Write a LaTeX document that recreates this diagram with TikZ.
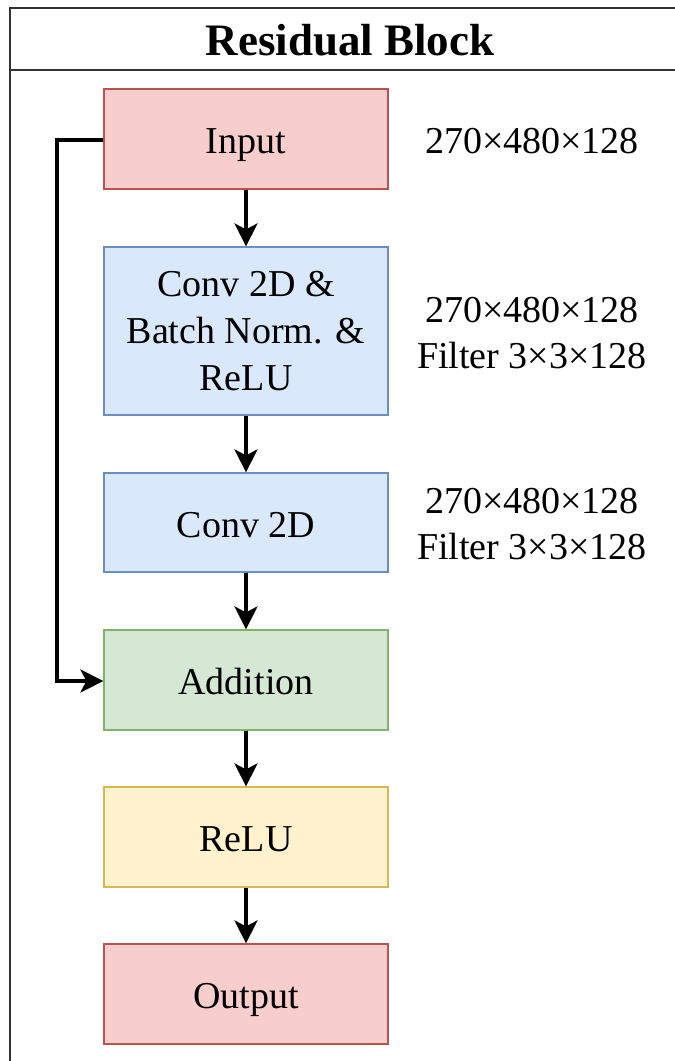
\documentclass[tikz,border=0pt]{standalone}
\usepackage{fontspec}
\setmainfont{Liberation Serif}
\usetikzlibrary{arrows.meta}
\definecolor{redfill}{HTML}{F8CECC}\definecolor{redline}{HTML}{B85450}
\definecolor{bluefill}{HTML}{DAE8FC}\definecolor{blueline}{HTML}{6C8EBF}
\definecolor{greenfill}{HTML}{D5E8D4}\definecolor{greenline}{HTML}{82B366}
\definecolor{yellowfill}{HTML}{FFF2CC}\definecolor{yellowline}{HTML}{D6B656}
\definecolor{framecol}{HTML}{333333}
\tikzset{
  layer/.style={draw, line width=1.2pt, minimum width=284pt, align=center,
    inner sep=0pt, font=\fontsize{38}{47}\selectfont},
  oneline/.style={text height=33pt, text depth=4pt},
  redbox/.style={layer, fill=redfill, draw=redline},
  bluebox/.style={layer, fill=bluefill, draw=blueline},
  greenbox/.style={layer, fill=greenfill, draw=greenline},
  yellowbox/.style={layer, fill=yellowfill, draw=yellowline},
  dims/.style={align=center, inner sep=0pt, font=\fontsize{38}{46}\selectfont},
  flow/.style={line width=3.5pt, -{Stealth[length=23pt,width=23pt,inset=6pt]}}
}
\begin{document}
\begin{tikzpicture}[x=1pt,y=-1pt]
\useasboundingbox (0,0) rectangle (675,1061);
\begin{scope}
\clip (0,0) rectangle (675,1061);
% outer frame with title bar
\draw[framecol, line width=1.5pt] (10,8) rectangle (700,1100);
\draw[framecol, line width=1.5pt] (10,70) -- (700,70);
\end{scope}
\node[font=\bfseries\fontsize{45}{50}\selectfont, inner sep=0pt] (title) at (350,40) {Residual Block};

% layers
\node[redbox, oneline, minimum height=100pt] (in) at (246,139) {Input};
\node[bluebox, minimum height=168pt] (cbr) at (246,331) {Conv 2D \&\\Batch Norm. \&\\ReLU};
\node[bluebox, oneline, minimum height=99pt] (conv) at (246,522.5) {Conv 2D};
\node[greenbox, oneline, minimum height=100pt] (add) at (246,680) {Addition};
\node[yellowbox, oneline, minimum height=100pt] (relu) at (246,837) {ReLU};
\node[redbox, oneline, minimum height=100pt] (out) at (246,994) {Output};

% tensor sizes
\node[dims] (d1) at (532,141) {270×480×128};
\node[dims] (d2) at (532,333) {270×480×128\\Filter 3×3×128};
\node[dims] (d3) at (532,524) {270×480×128\\Filter 3×3×128};

% main path
\draw[flow] (in) -- (cbr);
\draw[flow] (cbr) -- (conv);
\draw[flow] (conv) -- (add);
\draw[flow] (add) -- (relu);
\draw[flow] (relu) -- (out);

% skip connection
\coordinate (sk1) at (57,140);
\coordinate (sk2) at (57,681);
\draw[flow, line join=miter] (in.west |- sk1) -- (sk1) -- (sk2) -- (add.west |- sk2);
\end{tikzpicture}
\end{document}
